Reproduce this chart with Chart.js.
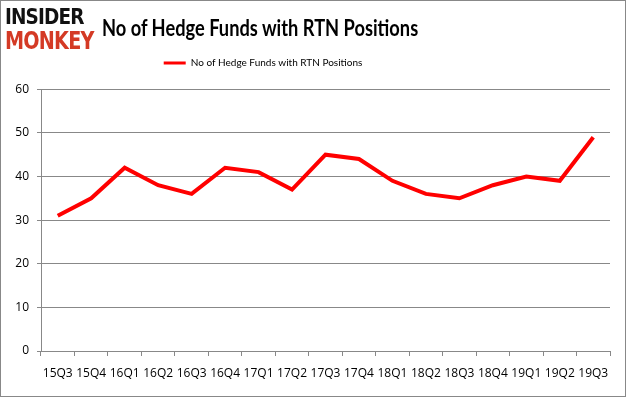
<!DOCTYPE html>
<html>
<head>
<meta charset="utf-8">
<script src="https://cdn.jsdelivr.net/npm/chart.js@4/dist/chart.umd.min.js"></script>
<style>
  html, body { margin:0; padding:0; background:#fff; }
  #wrap { position:relative; width:626px; height:397px; overflow:hidden; }
  #frame { position:absolute; left:0; top:0; width:624px; height:395px; border:1px solid #888; pointer-events:none; }
  #logo1, #logo2 { position:absolute; left:5px; font-family:"DejaVu Sans", sans-serif; font-weight:bold; transform-origin:0 0; letter-spacing:-1px; }
  #logo1 { top:5px; font-size:21px; color:#111; transform:scaleX(0.88); }
  #logo2 { top:27px; font-size:24px; color:#d43a25; transform:scaleX(0.8); }
  #title { position:absolute; left:102px; top:14px; font-family:Lato, sans-serif; font-weight:bold; font-size:22px; color:#000; transform:scaleX(0.83); transform-origin:0 0; white-space:nowrap; }
  canvas { position:absolute; left:0; top:0; }
</style>
</head>
<body>
<div id="wrap">
  <canvas id="chart" width="626" height="397"></canvas>
  <div id="logo1">INSIDER</div>
  <div id="logo2">MONKEY</div>
  <div id="title">No of Hedge Funds with RTN Positions</div>
  <div id="frame"></div>
</div>
<script>
  // ===== Data =====
  const quarters = ["15Q3","15Q4","16Q1","16Q2","16Q3","16Q4","17Q1","17Q2","17Q3","17Q4","18Q1","18Q2","18Q3","18Q4","19Q1","19Q2","19Q3"];
  const hedgeFunds = [31,35,42,38,36,42,41,37,45,44,39,36,35,38,40,39,49];
  const yTicks = [0,10,20,30,40,50,60];
  const seriesName = "No of Hedge Funds with RTN Positions";

  const tickFont = { family: "'Open Sans', sans-serif", size: 12 };

  // legend sits a bit left of centre in the original
  const legendShift = {
    id: "legendShift",
    afterLayout(chart) {
      if (chart.legend) { chart.legend.left -= 42; chart.legend.right -= 42; }
    }
  };

  new Chart(document.getElementById("chart"), {
    type: "line",
    data: {
      labels: quarters,
      datasets: [{
        label: seriesName,
        data: hedgeFunds,
        borderColor: "#ff0000",
        backgroundColor: "#ff0000",
        borderWidth: 4,
        pointRadius: 0,
        tension: 0,
        fill: false
      }]
    },
    plugins: [legendShift],
    options: {
      responsive: false,
      animation: false,
      layout: { padding: { top: 37, right: 16, left: 0, bottom: 0 } },
      plugins: {
        legend: {
          display: true,
          labels: {
            boxWidth: 22, boxHeight: 3, padding: 21, color: "#000",
            font: { family: "Lato, sans-serif", size: 10 },
            generateLabels: chart => Chart.defaults.plugins.legend.labels.generateLabels(chart)
              .map(l => ({ ...l, lineWidth: 0 }))
          }
        },
        // empty spacer between legend and plot area
        subtitle: {
          display: true, text: " ", weight: 500,
          font: { size: 1 }, padding: { top: 0, bottom: 10 }
        },
        tooltip: { enabled: false }
      },
      scales: {
        x: {
          offset: true,
          grid: { display: true, offset: true, drawOnChartArea: false, tickLength: 5, color: "#888" },
          border: { color: "#888" },
          ticks: { color: "#000", font: tickFont, maxRotation: 0, autoSkip: false, padding: 10 },
          afterFit: s => { s.height = 46; }
        },
        y: {
          min: 0, max: 60,
          afterBuildTicks: s => { s.ticks = yTicks.map(v => ({ value: v })); },
          grid: { color: "#888", tickLength: 4 },
          border: { color: "#888" },
          ticks: { color: "#000", font: tickFont, padding: 8 },
          afterFit: s => { s.width = 41; }
        }
      }
    }
  });
</script>
</body>
</html>
